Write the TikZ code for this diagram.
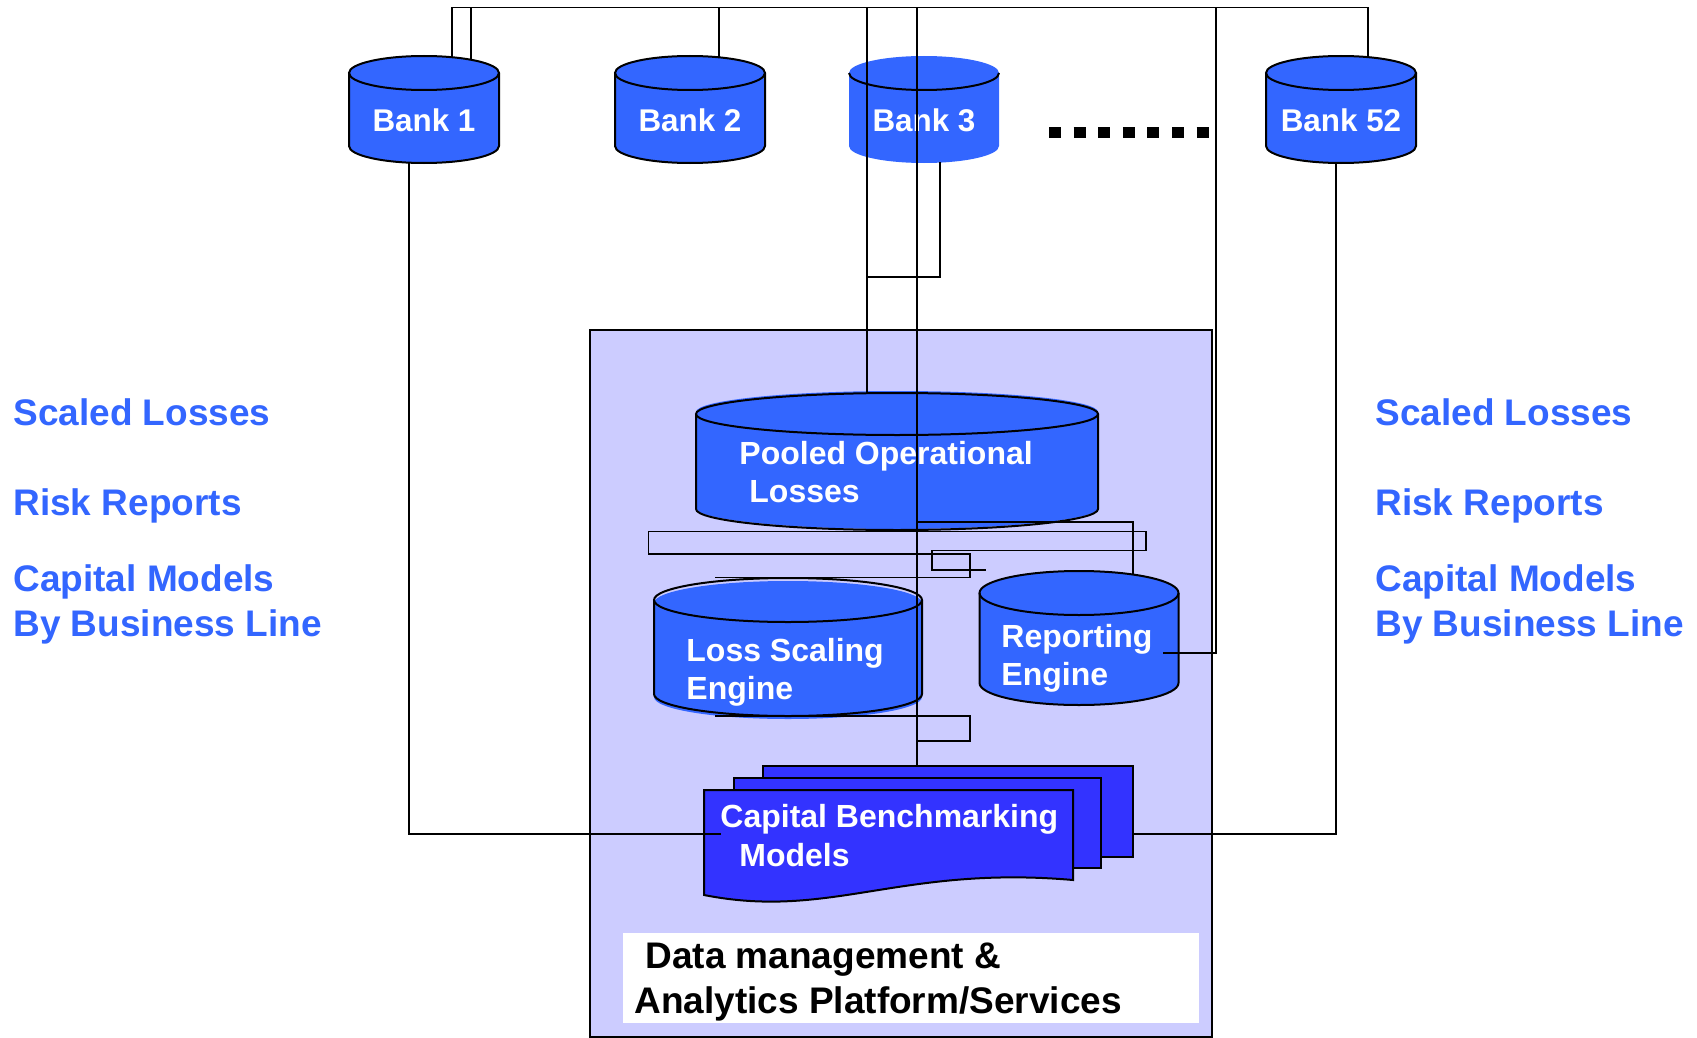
\documentclass[tikz,border=0pt]{standalone}
\usepackage{fontspec}
\setmainfont{Liberation Sans}
\definecolor{bankblue}{HTML}{3366FF}
\definecolor{docblue}{HTML}{3333FF}
\definecolor{platform}{HTML}{CCCCFF}
\newcommand{\drumfill}[6]{%
  \fill[#6] (#1-#4,#2) -- (#1-#4,#3) arc[start angle=180,end angle=0,x radius=#4,y radius=#5] -- (#1+#4,#2) arc[start angle=0,end angle=-180,x radius=#4,y radius=#5] -- cycle;}
\newcommand{\drumline}[5]{%
  \draw[shapeline] (#1-#4,#2) -- (#1-#4,#3) arc[start angle=180,end angle=0,x radius=#4,y radius=#5] -- (#1+#4,#2);
  \draw[shapeline] (#1,#2) ellipse[x radius=#4,y radius=#5];}
\tikzset{
  shapeline/.style={line width=1pt,black},
  conn/.style={line width=0.7pt,black},
  thickconn/.style={line width=1pt,black},
  banklabel/.style={text=white,font=\fontsize{15.7}{18}\selectfont\bfseries,anchor=base,inner sep=0pt},
  innerlabel/.style={text=white,font=\fontsize{16}{19}\selectfont\bfseries,anchor=base west,inner sep=0pt},
  sidelabel/.style={text=bankblue,font=\fontsize{18.5}{22}\selectfont\bfseries,anchor=base west,inner sep=0pt},
  platlabel/.style={text=black,font=\fontsize{18.5}{22}\selectfont\bfseries,anchor=base west,inner sep=0pt},
}
\begin{document}
\begin{tikzpicture}[x=0.5pt,y=-0.5pt]
\useasboundingbox (0,0) rectangle (1697,1038);
% platform
\draw[fill=platform,line width=0.6pt] (590,330) rectangle (1212,1037);
\fill[white] (623,933) rectangle (1199,1023);
% banks
\drumfill{424}{73}{146}{75}{17}{bankblue}\drumline{424}{73}{146}{75}{17}
\drumfill{690}{73}{146}{75}{17}{bankblue}\drumline{690}{73}{146}{75}{17}
\drumfill{924}{73}{146}{75}{17}{bankblue}
\draw[shapeline] (849,73) arc[start angle=180,end angle=0,x radius=75,y radius=17];
\drumfill{1341}{73}{146}{75}{17}{bankblue}\drumline{1341}{73}{146}{75}{17}
% cylinders
\drumfill{897}{412}{508}{201}{21}{bankblue}\drumline{897}{414}{509}{201}{21}
\drumfill{788}{603}{697}{134}{22}{bankblue}\drumline{788}{600}{694}{134}{22}
\drumfill{1079}{593}{683}{99.5}{22}{bankblue}\drumline{1079}{593}{683}{99.5}{22}
% documents
\draw[shapeline,fill=docblue] (763,766) rectangle (1133,857);
\draw[shapeline,fill=docblue] (734,778) rectangle (1101,868);
\draw[shapeline,fill=docblue] (704,790) -- (1073,790) -- (1073,880) .. controls (900,865) and (830,920) .. (704,895) -- cycle;
% labels
\node[banklabel] (b1) at (424,132) {Bank 1};
\node[banklabel] (b2) at (690,132) {Bank 2};
\node[banklabel] (b3) at (924,132) {Bank 3};
\node[banklabel] (b52) at (1341,132) {Bank 52};
\node[innerlabel] (pool1) at (739,464) {Pooled Operational};
\node[innerlabel] (pool2) at (749,502) {Losses};
\node[innerlabel] (ls1) at (686,661) {Loss Scaling};
\node[innerlabel] (ls2) at (686,699) {Engine};
\node[innerlabel] (re1) at (1001,647) {Reporting};
\node[innerlabel] (re2) at (1001,685) {Engine};
\node[innerlabel] (cb1) at (720,827) {Capital Benchmarking};
\node[innerlabel] (cb2) at (739,866) {Models};
\node[platlabel] (pl1) at (645,968) {Data management \&};
\node[platlabel] (pl2) at (634,1013) {Analytics Platform/Services};
\node[sidelabel] (l1) at (13,425) {Scaled Losses};
\node[sidelabel] (l2) at (13,515) {Risk Reports};
\node[sidelabel] (l3) at (13,591.7) {Capital Models};
\node[sidelabel] (l4) at (13,636.7) {By Business Line};
\node[sidelabel] (r1) at (1375,425) {Scaled Losses};
\node[sidelabel] (r2) at (1375,515) {Risk Reports};
\node[sidelabel] (r3) at (1375,591.7) {Capital Models};
\node[sidelabel] (r4) at (1375,636.7) {By Business Line};
% connectors
\draw[conn] (452,57) -- (452,7.5) -- (1368,7.5) -- (1368,57.5);
\draw[conn] (471,60) -- (471,7.5);
\draw[conn] (719,57.5) -- (719,7.5);
\draw[thickconn] (867,7.5) -- (867,393.5);
\draw[conn] (917,7.5) -- (917,766);
\draw[conn] (1216,7.5) -- (1216,653) -- (1163,653);
\draw[conn] (940,162) -- (940,277) -- (867,277);
\draw[conn] (409,163) -- (409,834) -- (721,834);
\draw[conn] (1336,163) -- (1336,834) -- (1133,834);
\draw[conn] (917,522) -- (1133,522) -- (1133,575);
\draw[conn] (715,577.3) -- (970,577.3) -- (970,554) -- (648.5,554) -- (648.5,531.7) -- (1146,531.7) -- (1146,550.5) -- (932,550.5) -- (932,570) -- (986,570);
\draw[conn] (715,716) -- (970,716) -- (970,741) -- (917,741);
\draw[line width=5.8pt,dash pattern=on 6pt off 6.3pt] (1049,132.5) -- (1211,132.5);
\end{tikzpicture}
\end{document}
